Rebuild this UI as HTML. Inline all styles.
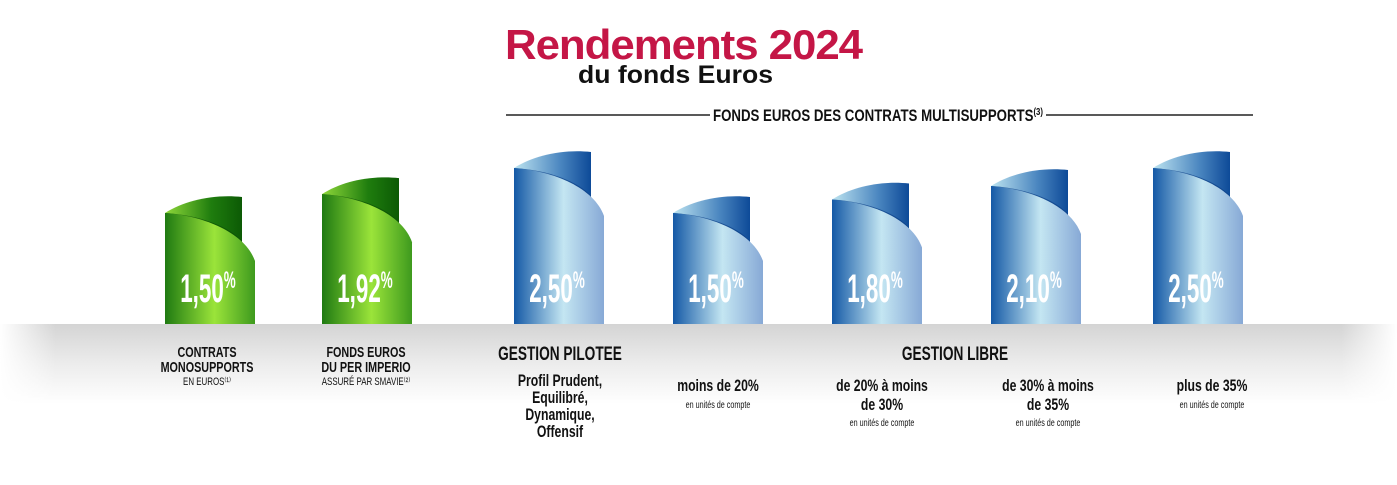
<!DOCTYPE html>
<html><head><meta charset="utf-8"><style>
html,body{margin:0;padding:0;background:#fff;width:1397px;height:485px;overflow:hidden}
svg{display:block}
text{font-family:"Liberation Sans",sans-serif}
</style></head><body>
<svg id="chart" width="1397" height="485" viewBox="0 0 1397 485">
<defs>
<linearGradient id="floor" x1="0" y1="0" x2="0" y2="1">
<stop offset="0" stop-color="#d4d4d4"/><stop offset="0.5" stop-color="#ececec"/><stop offset="1" stop-color="#fff"/></linearGradient>
<linearGradient id="floorH" x1="0" y1="0" x2="1" y2="0">
<stop offset="0" stop-color="#fff" stop-opacity="1"/><stop offset="0.04" stop-color="#fff" stop-opacity="0"/><stop offset="0.96" stop-color="#fff" stop-opacity="0"/><stop offset="1" stop-color="#fff" stop-opacity="1"/></linearGradient>
<linearGradient id="gFront" x1="0" y1="0" x2="1" y2="0">
<stop offset="0" stop-color="#1f7a12"/><stop offset="0.55" stop-color="#9be43a"/><stop offset="1" stop-color="#3e9a1e"/></linearGradient>
<linearGradient id="gBack" x1="0" y1="0" x2="1" y2="0">
<stop offset="0" stop-color="#8fd83a"/><stop offset="0.6" stop-color="#1f7d0e"/><stop offset="1" stop-color="#0c5a05"/></linearGradient>
<linearGradient id="bFront" x1="0" y1="0" x2="1" y2="0">
<stop offset="0" stop-color="#1459a6"/><stop offset="0.55" stop-color="#c4e6f2"/><stop offset="1" stop-color="#87a9d6"/></linearGradient>
<linearGradient id="bBack" x1="0" y1="0" x2="1" y2="0">
<stop offset="0" stop-color="#bde4f0"/><stop offset="0.6" stop-color="#4b86c0"/><stop offset="1" stop-color="#0d4a98"/></linearGradient>
</defs>
<rect x="0" y="324" width="1397" height="80" fill="url(#floor)"/>
<rect x="0" y="324" width="1397" height="80" fill="url(#floorH)"/>
<text x="505" y="59" font-size="42" font-weight="bold" fill="#c41646" letter-spacing="-1" textLength="357" lengthAdjust="spacingAndGlyphs">Rendements 2024</text>
<text x="578" y="83" font-size="25" font-weight="bold" fill="#111" textLength="195" lengthAdjust="spacingAndGlyphs">du fonds Euros</text>
<line x1="506" y1="115" x2="710" y2="115" stroke="#222" stroke-width="1.5"/>
<line x1="1046" y1="115" x2="1253" y2="115" stroke="#222" stroke-width="1.5"/>
<text x="878" y="121" font-size="17" font-weight="bold" fill="#111" text-anchor="middle" transform="translate(878 0) scale(0.78 1) translate(-878 0)">FONDS EUROS DES CONTRATS MULTISUPPORTS<tspan font-size="10" dy="-6">(3)</tspan></text>
<g id="bars"></g>
<g id="labels"></g>
</svg>
<script>
const categories = ["Contrats monosupports","Fonds euros PER Imperio","Gestion pilotee","Moins de 20%","De 20% a 30%","De 30% a 35%","Plus de 35%"];
const values = [1.50, 1.92, 2.50, 1.50, 1.80, 2.10, 2.50];
const valueLabels = ["1,50","1,92","2,50","1,50","1,80","2,10","2,50"];
const colors = ["green","green","blue","blue","blue","blue","blue"];
const NS = "http://www.w3.org/2000/svg";
const lefts = [165, 322, 514, 673, 832, 991, 1153];
const baseY = 324;
function yScale(v){ return 264.5 - 45 * v; }
const bars = document.getElementById('bars');
function mk(tag, attrs, parent){ const e=document.createElementNS(NS,tag); for(const k in attrs) e.setAttribute(k,attrs[k]); parent.appendChild(e); return e; }
values.forEach((v,i)=>{
  const L = lefts[i], T = yScale(v), g = colors[i]==="green";
  const grp = mk('g',{},bars);
  
  
  mk('path',{d:`M${L},${T+16} C${L+20},${T+3} ${L+50},${T-3} ${L+77},${T} L${L+77},${T+70} L${L},${T+70} Z`, fill:`url(#${g?'gBack':'bBack'})`},grp);
  mk('path',{d:`M${L},${T+16} C${L+35},${T+18} ${L+65},${T+30} ${L+77},${T+44} L${L+77},${T+52} C${L+60},${T+34} ${L+30},${T+22} ${L},${T+20} Z`, fill:g?'#0b4f05':'#0c3f86', opacity:0.7},grp);
  mk('path',{d:`M${L},${T+16} C${L+40},${T+19} ${L+80},${T+36} ${L+90},${T+64} L${L+90},${baseY} L${L},${baseY} Z`, fill:`url(#${g?'gFront':'bFront'})`},grp);
  const cx = L+43;
  const t = mk('text',{x:cx,y:302,'font-size':40,'font-weight':'bold',fill:'#fff','text-anchor':'middle',transform:`translate(${cx} 0) scale(0.56 1) translate(${-cx} 0)`},grp);
  
  
  t.textContent = valueLabels[i];
  const p = mk('tspan',{'font-size':24,dy:-14},t); p.textContent='%';
});
const lab = document.getElementById('labels');
const lines = [
 [[207,357,"CONTRATS",15,1],[207,372,"MONOSUPPORTS",15,1],[207,385,"EN EUROS⁽¹⁾",11,0]],
 [[366,357,"FONDS EUROS",15,1],[366,372,"DU PER IMPERIO",15,1],[366,385,"ASSURÉ PAR SMAVIE⁽²⁾",11,0]],
 [[560,360,"GESTION PILOTEE",19,1],[560,386,"Profil Prudent,",17,0],[560,403,"Equilibré,",17,0],[560,420,"Dynamique,",17,0],[560,437,"Offensif",17,0]],
 [[718,391,"moins de 20%",17,0],[718,408,"en unités de compte",10,0]],
 [[955,360,"GESTION LIBRE",19,1]],
 [[882,391,"de 20% à moins",17,0],[882,410,"de 30%",17,0],[882,426,"en unités de compte",10,0]],
 [[1048,391,"de 30% à moins",17,0],[1048,410,"de 35%",17,0],[1048,426,"en unités de compte",10,0]],
 [[1212,391,"plus de 35%",17,0],[1212,408,"en unités de compte",10,0]]
];
lines.forEach((grpL,gi)=>{
  grpL.forEach(([x,y,s,fs,b],li)=>{
    const t = mk('text',{x:x,y:y,'font-size':fs,'font-weight':(b||fs>=15)?'bold':'normal',fill:'#111','text-anchor':'middle',transform:`translate(${x} 0) scale(0.72 1) translate(${-x} 0)`},lab);
    
    
    t.textContent = s;
  });
});
</script>
</body></html>
